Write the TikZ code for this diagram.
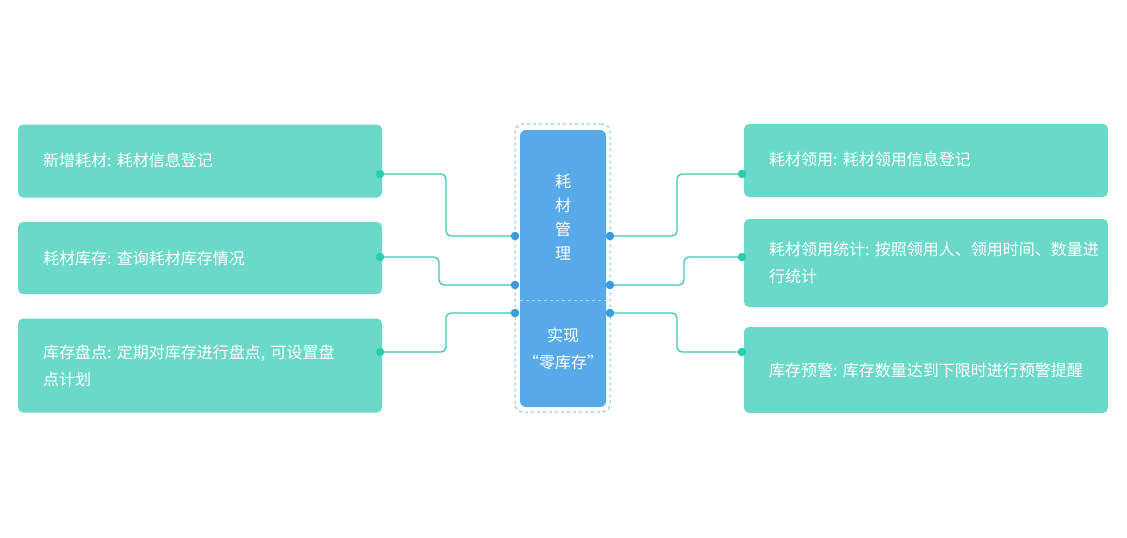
\documentclass[tikz,border=0pt]{standalone}
\usepackage{fontspec}
\setmainfont{Noto Sans CJK SC}
\usetikzlibrary{positioning,calc}
\definecolor{teal}{HTML}{6BD9C9}
\definecolor{conn}{HTML}{3CC9B5}
\definecolor{tdot}{HTML}{2ACDB2}
\definecolor{cblue}{HTML}{57A9E8}
\definecolor{bdot}{HTML}{3B9CDC}
\definecolor{dashc}{HTML}{7FBCEF}
\tikzset{
  card/.style={fill=teal, draw=none, rounded corners=5pt, text=white,
    font=\fontsize{16pt}{27pt}\selectfont, align=left, text width=314pt,
    inner xsep=25pt, inner ysep=0pt, minimum width=364pt},
  tdotst/.style={circle, fill=tdot, inner sep=0pt, minimum size=8pt},
  bdotst/.style={circle, fill=bdot, inner sep=0pt, minimum size=8pt},
  link/.style={draw=conn, line width=1.3pt, rounded corners=5pt},
}
\begin{document}
\begin{tikzpicture}[x=1pt,y=-1pt]
\useasboundingbox (0,0) rectangle (1127,538);
% outer dashed frame
\node[draw=dashc, dashed, line width=1pt, rounded corners=8pt, minimum width=95pt, minimum height=288pt, inner sep=0pt] (frame) at (562.5,268) {};
% central blue box
\node[fill=cblue, rounded corners=6pt, minimum width=86pt, minimum height=277pt, inner sep=0pt] (core) at (563,268.5) {};
\draw[draw=dashc!60!white, dashed, line width=1pt] (core.west |- 0,300) coordinate (sepL) -- (core.east |- 0,300) coordinate (sepR);
\node[text=white, font=\fontsize{16pt}{24pt}\selectfont, align=center] (t1) at (563,217) {耗\\材\\管\\理};
\node[text=white, font=\fontsize{16pt}{27pt}\selectfont, align=center] (t2) at (563,349) {实现\\“零库存”};

% left cards
\node[card, minimum height=73pt] (L1) at (200,161) {\raisebox{2pt}{新增耗材:~耗材信息登记}};
\node[card, minimum height=72pt] (L2) at (200,258) {耗材库存:~查询耗材库存情况};
\node[card, minimum height=94pt] (L3) at (200,365.5) {\mbox{库存盘点:~定期对库存进行盘点,~可设置盘}\\点计划};
% right cards
\node[card, minimum height=73pt] (R1) at (926,160.5) {\raisebox{3pt}{耗材领用:~耗材领用信息登记}};
\node[card, minimum height=88pt] (R2) at (926,263) {\mbox{耗材领用统计:~按照领用人、领用时间、数量进}\\行统计};
\node[card, minimum height=86pt] (R3) at (926,370) {\mbox{库存预警:~库存数量达到下限时进行预警提醒}};

% dots
\node[tdotst] (l1) at (380,174) {};
\node[tdotst] (l2) at (380,257) {};
\node[tdotst] (l3) at (380,352) {};
\node[tdotst] (r1) at (742,174) {};
\node[tdotst] (r2) at (742,257) {};
\node[tdotst] (r3) at (742,352) {};
\node[bdotst] (cl1) at (515,236) {};
\node[bdotst] (cl2) at (515,285) {};
\node[bdotst] (cl3) at (515,313) {};
\node[bdotst] (cr1) at (610,236) {};
\node[bdotst] (cr2) at (610,285) {};
\node[bdotst] (cr3) at (610,313) {};

% connectors
\path[link] (l1.center) -- ([xshift=66pt]l1.center) |- (cl1.center);
\path[link] (l2.center) -- ([xshift=59pt]l2.center) |- (cl2.center);
\path[link] (l3.center) -- ([xshift=66pt]l3.center) |- (cl3.center);
\path[link] (cr1.center) -- ([xshift=67pt]cr1.center) |- (r1.center);
\path[link] (cr2.center) -- ([xshift=74pt]cr2.center) |- (r2.center);
\path[link] (cr3.center) -- ([xshift=67pt]cr3.center) |- (r3.center);
% redraw dots on top
\foreach \n in {l1,l2,l3,r1,r2,r3} \fill[tdot] (\n) circle (4.2pt);
\foreach \n in {cl1,cl2,cl3,cr1,cr2,cr3} \fill[bdot] (\n) circle (4.2pt);
\end{tikzpicture}
\end{document}
